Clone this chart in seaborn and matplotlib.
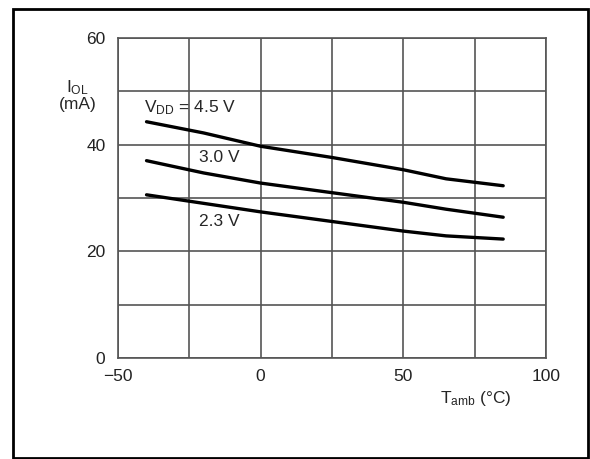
import pandas as pd
import matplotlib
matplotlib.use("Agg")
import matplotlib.pyplot as plt
import seaborn as sns
from matplotlib.patches import Rectangle

# Data
temps = [-40, -20, 0, 25, 50, 65, 85]
iol_45 = [44.3, 42.2, 39.7, 37.6, 35.3, 33.6, 32.3]
iol_30 = [37.0, 34.7, 32.8, 31.0, 29.2, 27.9, 26.4]
iol_23 = [30.6, 29.0, 27.4, 25.6, 23.8, 22.9, 22.3]
supplies = ['4.5 V', '3.0 V', '2.3 V']
x_ticks = [-50, 0, 50, 100]
y_ticks = [0, 20, 40, 60]

rows = []
for name, vals in zip(supplies, [iol_45, iol_30, iol_23]):
    for t, v in zip(temps, vals):
        rows.append({'Tamb': t, 'IOL': v, 'VDD': name})
df = pd.DataFrame(rows)

sns.set_theme(style="white")
plt.rcParams['font.family'] = ['Liberation Sans', 'DejaVu Sans']
plt.rcParams['mathtext.fontset'] = 'custom'
plt.rcParams['mathtext.rm'] = 'Liberation Sans'

fig = plt.figure(figsize=(5.9, 4.59), dpi=100)
ax = fig.add_axes([0.2, 0.22, 0.7254, 0.6972])

sns.lineplot(data=df, x='Tamb', y='IOL', units='VDD', estimator=None,
             color='black', linewidth=2.4, ax=ax, legend=False)

fs = 12.5
ax.set_xlim(-50, 100)
ax.set_ylim(0, 60)
ax.set_xticks(range(-50, 101, 25))
ax.set_yticks(range(0, 61, 10))
ax.grid(True, color='#555555', linewidth=1.2)
ax.set_xticklabels(['\u221250' if t == -50 else (str(t) if t in x_ticks else '')
                    for t in range(-50, 101, 25)])
ax.set_yticklabels([str(t) if t in y_ticks else '' for t in range(0, 61, 10)])
ax.tick_params(axis='both', length=0, labelsize=fs, colors='#222222')
ax.tick_params(axis='x', pad=8)
ax.tick_params(axis='y', pad=9)
for s in ax.spines.values():
    s.set_color('#555555')
    s.set_linewidth(1.2)
ax.set_xlabel('')
ax.set_ylabel('')

ax.text(-40.8, 47, r'$\mathregular{V_{DD}}$ = 4.5 V', fontsize=fs, va='center', ha='left')
ax.text(-14.5, 37.6, '3.0 V', fontsize=fs, va='center', ha='center')
ax.text(-14.5, 25.6, '2.3 V', fontsize=fs, va='center', ha='center')

fig.text(0.132, 0.808, r'$\mathregular{I_{OL}}$', fontsize=fs, ha='center', va='center')
fig.text(0.132, 0.772, '(mA)', fontsize=fs, ha='center', va='center')
fig.text(0.807, 0.132, r'$\mathregular{T_{amb}}$ (°C)', fontsize=fs, ha='center', va='center')

fig.patches.append(Rectangle((13 / 590, 1 / 459), 575 / 590, 449 / 459,
                             transform=fig.transFigure, fill=False,
                             edgecolor='black', linewidth=2))

fig.savefig('out.png', dpi=100)
